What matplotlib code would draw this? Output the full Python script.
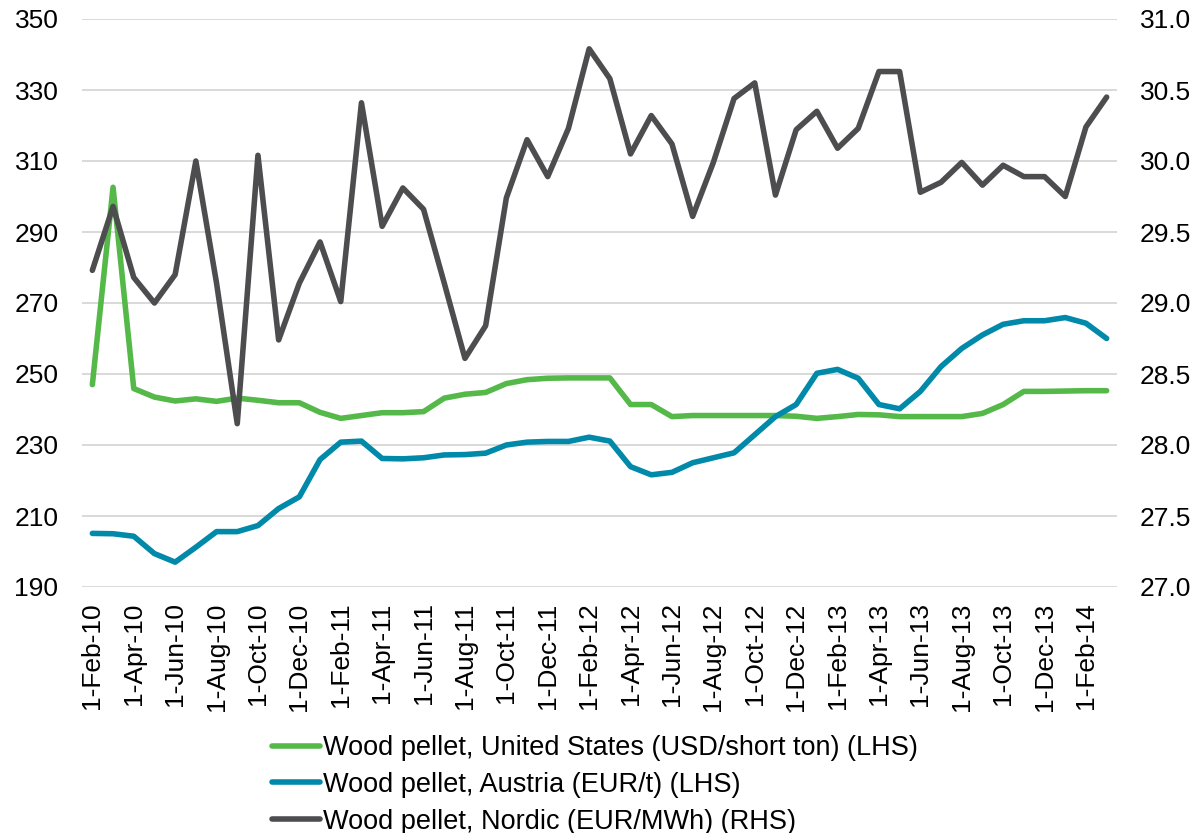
import matplotlib
matplotlib.use("Agg")
import matplotlib.pyplot as plt
import pandas as pd

plt.rcParams['font.family'] = ['Liberation Sans', 'DejaVu Sans']

dates = pd.date_range("2010-02-01", "2014-03-01", freq="MS")

us = [247.0, 302.6, 245.9, 243.5, 242.4, 243.0, 242.3, 243.2, 242.6, 241.9,
      241.9, 239.2, 237.5, 238.3, 239.1, 239.1, 239.4, 243.2, 244.3, 244.8,
      247.3, 248.4, 248.8, 248.9, 248.9, 248.9, 241.4, 241.4, 238.0, 238.3,
      238.3, 238.3, 238.3, 238.3, 238.1, 237.5, 238.0, 238.6, 238.5, 238.0,
      238.0, 238.0, 238.0, 238.9, 241.4, 245.1, 245.1, 245.2, 245.3, 245.3]

austria = [205.1, 205.0, 204.3, 199.4, 197.0, 201.2, 205.6, 205.6, 207.3, 212.1,
           215.4, 225.9, 230.8, 231.1, 226.2, 226.1, 226.4, 227.2, 227.3, 227.7,
           230.0, 230.8, 231.0, 231.0, 232.2, 231.1, 223.9, 221.6, 222.3, 225.0,
           226.4, 227.8, 232.9, 238.0, 241.4, 250.2, 251.3, 248.8, 241.4, 240.2,
           245.1, 252.1, 257.2, 261.0, 264.0, 265.0, 265.0, 265.9, 264.3, 260.0]

nordic = [29.23, 29.68, 29.18, 29.00, 29.20, 30.00, 29.14, 28.15, 30.04, 28.74,
          29.14, 29.43, 29.01, 30.41, 29.54, 29.81, 29.66, 29.14, 28.61, 28.84,
          29.74, 30.15, 29.89, 30.23, 30.79, 30.58, 30.05, 30.32, 30.12, 29.61,
          29.99, 30.44, 30.55, 29.76, 30.22, 30.35, 30.09, 30.23, 30.63, 30.63,
          29.78, 29.85, 29.99, 29.83, 29.97, 29.89, 29.89, 29.75, 30.24, 30.45]

labels = ["Wood pellet, United States (USD/short ton) (LHS)",
          "Wood pellet, Austria (EUR/t) (LHS)",
          "Wood pellet, Nordic (EUR/MWh) (RHS)"]
colors = ["#55b94a", "#0089a9", "#4d4d4f"]

left_ticks = list(range(190, 351, 20))
right_ticks = [27.0, 27.5, 28.0, 28.5, 29.0, 29.5, 30.0, 30.5, 31.0]

fig = plt.figure(figsize=(11.95, 8.33), dpi=100)
ax = fig.add_axes([82/1195, 1-587/833, (1117-82)/1195, (587-19)/833])
ax2 = ax.twinx()

x = list(range(len(dates)))
fs = 19
lfs = 19.5
lw = 4.0

ax.set_ylim(190, 350)
ax.set_yticks(left_ticks)
ax2.set_ylim(27.0, 31.0)
ax2.set_yticks(right_ticks)
ax2.set_yticklabels([f"{t:.1f}" for t in right_ticks])
ax.set_xlim(-0.5, len(dates) - 0.5)

for t in left_ticks:
    ax.axhline(t, color="#d9d9d9", lw=1.4, zorder=0)

h1, = ax.plot(x, us, color=colors[0], lw=lw, solid_capstyle='round', solid_joinstyle='round', zorder=3)
h2, = ax.plot(x, austria, color=colors[1], lw=lw, solid_capstyle='round', solid_joinstyle='round', zorder=3)
h3, = ax2.plot(x, nordic, color=colors[2], lw=lw, solid_capstyle='round', solid_joinstyle='round', zorder=2)

tick_idx = x[::2]
ax.set_xticks(tick_idx)
ax.set_xticklabels([f"{d.day}-{d.strftime('%b-%y')}" for d in dates[::2]], rotation=90, fontsize=fs)

for a in (ax, ax2):
    for s in a.spines.values():
        s.set_visible(False)
    a.tick_params(length=0)
ax.tick_params(axis='y', labelsize=fs, pad=17, colors='black')
ax.tick_params(axis='x', pad=11)
ax2.tick_params(axis='y', labelsize=fs, pad=16.5)

fig.legend([h1, h2, h3], labels, loc='upper left',
           bbox_to_anchor=(272/1195, 1-735/833), frameon=False,
           fontsize=lfs, handlelength=1.77, handletextpad=0.12,
           labelspacing=0.4, borderpad=0, borderaxespad=0)

fig.savefig("out.png", dpi=100, facecolor="white")
